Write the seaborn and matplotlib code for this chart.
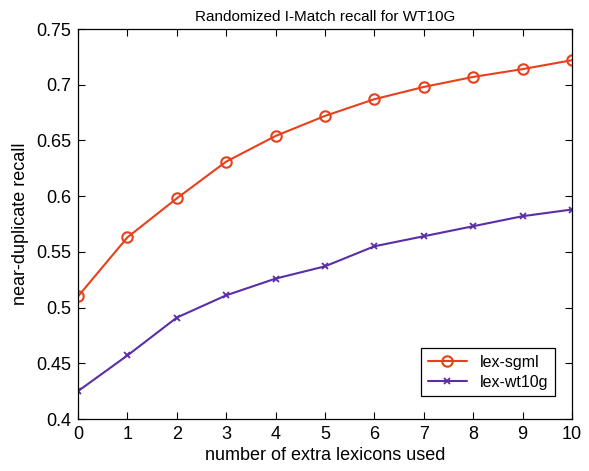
import matplotlib
matplotlib.use("Agg")
import matplotlib.pyplot as plt
import numpy as np
import pandas as pd
import seaborn as sns

# data
lexicons = list(range(11))
lex_sgml = [0.510, 0.563, 0.598, 0.631, 0.654, 0.672, 0.687, 0.698, 0.707, 0.714, 0.722]
lex_wt10g = [0.425, 0.457, 0.491, 0.511, 0.526, 0.537, 0.555, 0.564, 0.573, 0.582, 0.588]
series = ["lex-sgml", "lex-wt10g"]
colors = ["#e8401c", "#5a2ea8"]
markers = ["o", "x"]

df = pd.DataFrame({
    "x": lexicons * 2,
    "y": lex_sgml + lex_wt10g,
    "series": [series[0]] * 11 + [series[1]] * 11,
})

sns.set_style("ticks")
plt.rcParams["font.family"] = ["Liberation Sans", "DejaVu Sans"]
plt.rcParams["text.color"] = "black"
plt.rcParams["axes.labelcolor"] = "black"
plt.rcParams["xtick.color"] = "black"
plt.rcParams["ytick.color"] = "black"

fig = plt.figure(figsize=(5.89, 4.71), dpi=100)
ax = fig.add_axes([0.1324, 0.1104, 0.8386, 0.828])

for name, c, m in zip(series, colors, markers):
    sub = df[df["series"] == name]
    sns.lineplot(data=sub, x="x", y="y", ax=ax, color=c, marker=m,
                 markersize=7.5 if m == "o" else 5,
                 markerfacecolor="none" if m == "o" else c,
                 markeredgecolor=c, markeredgewidth=1.5 if m == "o" else 1.3,
                 linewidth=1.5, label=name)

ax.set_xlim(0, 10)
ax.set_ylim(0.4, 0.75)
ax.set_xticks(lexicons)
yt = np.round(np.arange(0.4, 0.751, 0.05), 2)
ax.set_yticks(yt)
ax.set_yticklabels([f"{v:g}" for v in yt])
ax.tick_params(direction="in", top=True, right=True, labelsize=13, length=5, width=0.8, pad=5)
for s in ax.spines.values():
    s.set_visible(True)
    s.set_linewidth(0.9)
    s.set_color("black")

ax.set_xlabel("number of extra lexicons used", fontsize=13, labelpad=3)
ax.set_ylabel("near-duplicate recall", fontsize=13, labelpad=5)
ax.set_title("Randomized I-Match recall for WT10G", fontsize=11, pad=6)

leg = ax.legend(loc="lower right", bbox_to_anchor=(0.966, 0.059), borderaxespad=0,
                fontsize=11.5, fancybox=False, framealpha=1, edgecolor="black",
                handlelength=2.5, borderpad=0.4, labelspacing=0.3)
leg.get_frame().set_linewidth(0.9)

fig.savefig("out.png", dpi=100)
